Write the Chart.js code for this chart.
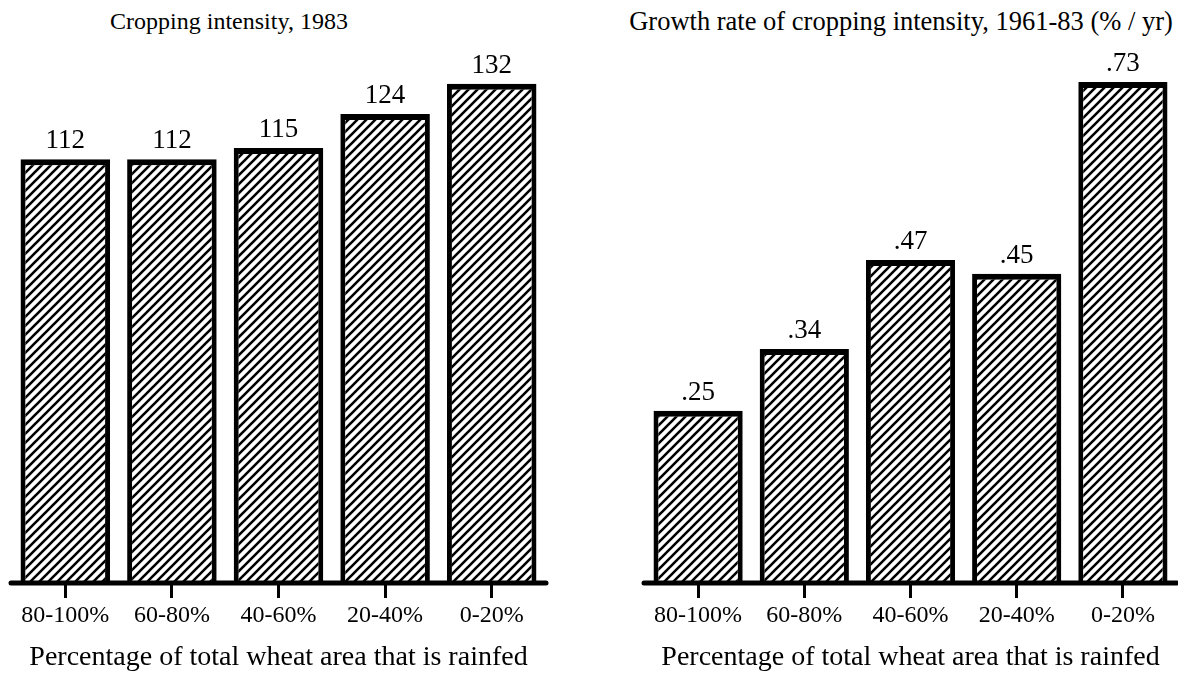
<!DOCTYPE html>
<html>
<head>
<meta charset="utf-8">
<script src="https://cdn.jsdelivr.net/npm/chart.js@4.4.0/dist/chart.umd.min.js"></script>
<style>
  html, body { margin: 0; padding: 0; background: #fff; }
  #page { position: relative; width: 1178px; height: 674px; overflow: hidden; }
  .box { position: absolute; top: 0; height: 674px; }
  .ttl { position: absolute; font-family: "Liberation Serif", serif; color: #000; white-space: nowrap; transform: translateX(-50%); }
</style>
</head>
<body>
<div id="page">
  <div class="ttl" style="left:229px;top:8px;font-size:24px">Cropping intensity, 1983</div>
  <div class="ttl" style="left:901px;top:6px;font-size:26.5px">Growth rate of cropping intensity, 1961-83 (% / yr)</div>
  <div class="box" style="left:0;width:589px"><canvas id="chart1"></canvas></div>
  <div class="box" style="left:589px;width:589px"><canvas id="chart2"></canvas></div>
</div>
<script>
// data
const categories = ['80-100%', '60-80%', '40-60%', '20-40%', '0-20%'];
const intensity1983 = [112, 112, 115, 124, 132];
const growthRate = [0.25, 0.34, 0.47, 0.45, 0.73];
const axisTitle = 'Percentage of total wheat area that is rainfed';

const FONT = '"Liberation Serif", "Times New Roman", serif';

// diagonal hatch fill
function makeHatch() {
    const s = 9;
    const c = document.createElement('canvas');
    c.width = s; c.height = s;
    const g = c.getContext('2d');
    g.fillStyle = '#fff';
    g.fillRect(0, 0, s, s);
    g.strokeStyle = '#000';
    g.lineWidth = 2.6;
    g.beginPath();
    g.moveTo(-2, s + 2); g.lineTo(s + 2, -2);
    g.moveTo(-2, 2); g.lineTo(2, -2);
    g.moveTo(s - 2, s + 2); g.lineTo(s + 2, s - 2);
    g.stroke();
    return g.createPattern(c, 'repeat');
}
const hatch = makeHatch();

// thick base line under the bars
const baseLine = {
    id: 'baseLine',
    afterDatasetsDraw(chart) {
        const {ctx, chartArea, scales} = chart;
        const x = scales.x;
        ctx.save();
        ctx.strokeStyle = '#000';
        ctx.lineWidth = 5;
        ctx.lineCap = 'round';
        ctx.beginPath();
        ctx.moveTo(x.left - 1, chartArea.bottom + 1);
        ctx.lineTo(x.right + 1, chartArea.bottom + 1);
        ctx.stroke();
        ctx.restore();
    }
};

// numbers above the bars
const valueLabels = {
    id: 'valueLabels',
    afterDatasetsDraw(chart) {
        const {ctx} = chart;
        const ds = chart.data.datasets[0];
        const meta = chart.getDatasetMeta(0);
        ctx.save();
        ctx.font = '27px ' + FONT;
        ctx.fillStyle = '#000';
        ctx.textAlign = 'center';
        ctx.textBaseline = 'alphabetic';
        meta.data.forEach((bar, i) => {
            ctx.fillText(ds.valueText[i], bar.x, bar.y - 11);
        });
        ctx.restore();
    }
};

function makeChart(id, values, texts, yMax, pad) {
    return new Chart(document.getElementById(id), {
        type: 'bar',
        data: {
            labels: categories,
            datasets: [{
                data: values,
                valueText: texts,
                backgroundColor: hatch,
                borderColor: '#000',
                borderWidth: {top: 6, left: 5, right: 5, bottom: 0},
                borderSkipped: 'start',
                barPercentage: 0.84,
                categoryPercentage: 1.0
            }]
        },
        options: {
            responsive: true,
            maintainAspectRatio: false,
            animation: false,
            devicePixelRatio: 1,
            layout: {padding: pad},
            plugins: {
                legend: {display: false},
                tooltip: {enabled: false}
            },
            scales: {
                x: {
                    grid: {
                        offset: false,
                        drawOnChartArea: false,
                        drawTicks: true,
                        tickLength: 16,
                        tickWidth: 3,
                        tickColor: '#000',
                        color: '#000'
                    },
                    border: {display: false},
                    ticks: {
                        color: '#000',
                        font: {family: FONT, size: 24},
                        padding: 3,
                        maxRotation: 0,
                        autoSkip: false
                    },
                    title: {
                        display: true,
                        text: axisTitle,
                        color: '#000',
                        font: {family: FONT, size: 28},
                        padding: {top: 4, bottom: 0}
                    },
                    afterFit(scale) { scale.height = 92; }
                },
                y: {display: false, min: 0, max: yMax}
            }
        },
        plugins: [baseLine, valueLabels]
    });
}

makeChart('chart1', intensity1983, intensity1983.map(v => String(v)), 138.3,
    {top: 60, left: 12, right: 44, bottom: 0});
makeChart('chart2', growthRate, growthRate.map(v => v.toFixed(2).replace(/^0/, '')), 0.762,
    {top: 60, left: 56, right: 2, bottom: 0});
</script>
</body>
</html>
